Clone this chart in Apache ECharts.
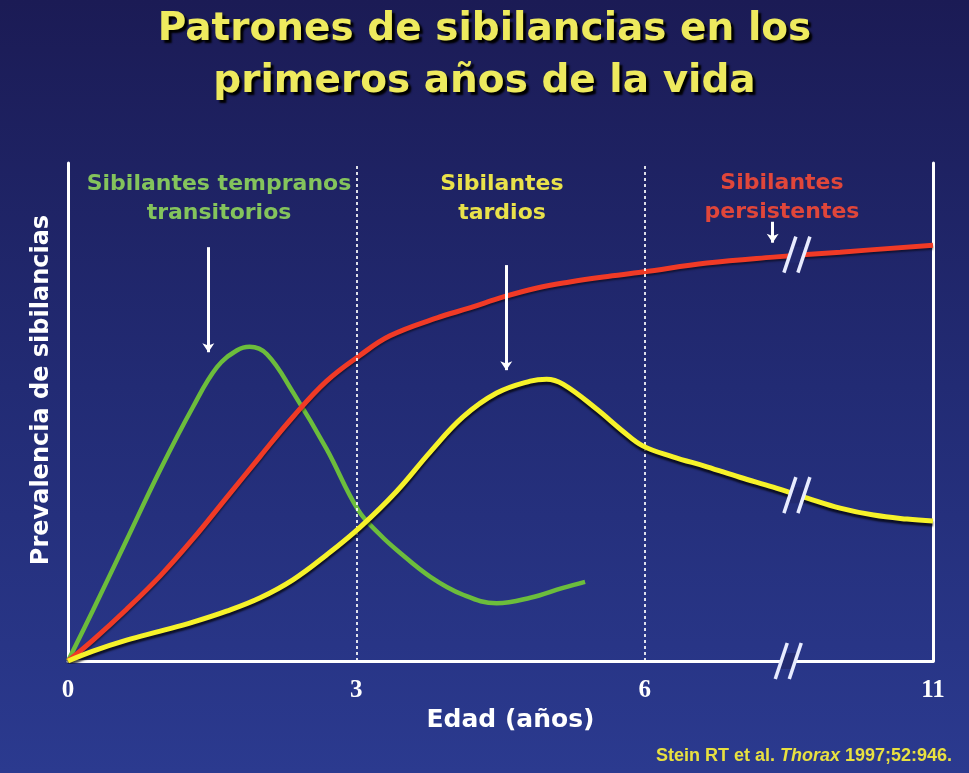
<!DOCTYPE html>
<html>
<head>
<meta charset="utf-8">
<script src="https://cdn.jsdelivr.net/npm/echarts@6/dist/echarts.min.js"></script>
<style>
  html, body { margin: 0; padding: 0; }
  #chart { width: 969px; height: 773px; }
</style>
</head>
<body>
<div id="chart"></div>
<script>
// tick labels of the broken age axis (0, 3, 6 then a break to 11)
const xTickLabels = ["0", "3", "6", "11"];
// dotted guides at 3 and 6 años
const guideAges = [3, 6];

// edad (años) / prevalencia (relative, 0-100)
const greenAge = [0, 0.26, 0.61, 0.96, 1.30, 1.55, 1.76, 1.89, 2.07, 2.34, 2.69, 3.02, 3.25, 3.42, 3.77, 4.11, 4.46, 4.81, 5.15, 5.38];
const greenPrev = [0, 10.2, 24.3, 38.4, 51.0, 59.0, 62.4, 63.1, 61.6, 54.0, 42.6, 30.3, 25.3, 22.3, 16.9, 13.3, 11.6, 12.7, 14.7, 15.9];

const redAge = [0, 0.26, 0.61, 0.96, 1.30, 1.65, 2.00, 2.34, 2.69, 3.04, 3.35, 3.84, 4.18, 4.53, 4.88, 5.22, 5.57, 5.98, 7.08, 8.23, 9.39, 11];
const redPrev = [0, 4.2, 10.4, 17.1, 24.5, 32.8, 41.1, 49.0, 56.2, 61.4, 65.3, 68.9, 70.9, 73.1, 74.9, 76.1, 77.1, 78.1, 79.9, 81.1, 82.1, 83.5];

const yellowAge = [0, 0.26, 0.61, 0.96, 1.30, 1.65, 2.00, 2.34, 2.69, 3.04, 3.42, 3.77, 4.11, 4.46, 4.81, 4.98, 5.15, 5.50, 5.77, 5.98, 6.49, 7.08, 7.65, 8.23, 8.82, 9.39, 9.97, 10.55, 11];
const yellowPrev = [0, 2.0, 4.2, 6.0, 7.8, 10.0, 12.7, 16.3, 21.3, 26.9, 34.1, 42.0, 49.0, 53.8, 56.2, 56.6, 55.6, 50.6, 46.2, 43.2, 41.0, 39.0, 36.9, 34.9, 32.7, 30.7, 29.3, 28.5, 28.1];

// "//" break marks: [edad, prevalencia]
const breakMarks = [[8.49, 0], [8.64, 81.6], [8.64, 33.3]];

// arrows: [edad, desde, hasta]
const greenArrow = [1.46, 83.1, 62.0];
const yellowArrow = [4.56, 79.5, 58.4];
const redArrow = [8.22, 88.2, 84.0];

// after 6 años the axis is compressed (6..11 drawn in the space of 3 años)
function toAxis(age) {
  return age <= 6 ? age : 6 + (age - 6) * 0.6;
}
function pairs(ages, vals) {
  return ages.map((a, i) => [toAxis(a), vals[i]]);
}
function arrow(a) {
  return [{ coord: [toAxis(a[0]), a[1]] }, { coord: [toAxis(a[0]), a[2]] }];
}

const chart = echarts.init(document.getElementById("chart"));
const bg = "#222a70";

const arrowStyle = {
  silent: true,
  symbol: ["none", "arrow"],
  symbolSize: 9,
  label: { show: false },
  lineStyle: { color: "#ffffff", width: 3, type: "solid" },
  itemStyle: { color: "#ffffff" },
  emphasis: { disabled: true },
};

const option = {
  backgroundColor: {
    type: "linear", x: 0, y: 0, x2: 0, y2: 1,
    colorStops: [
      { offset: 0, color: "#1b1b55" },
      { offset: 0.5, color: "#222b74" },
      { offset: 1, color: "#2b3a8f" },
    ],
  },
  animation: false,
  title: {
    text: "Patrones de sibilancias en los\nprimeros años de la vida",
    left: "center",
    top: 4,
    padding: 0,
    textStyle: {
      color: "#eeea5e",
      fontFamily: "DejaVu Sans",
      fontWeight: "bold",
      fontSize: 39,
      lineHeight: 52,
      textShadowColor: "#000000",
      textShadowOffsetX: 3,
      textShadowOffsetY: 3,
      textShadowBlur: 2,
    },
  },
  grid: { left: 68, right: 36, top: 163, bottom: 112 },
  xAxis: {
    type: "value",
    min: 0,
    max: 9,
    interval: 3,
    name: "Edad (años)",
    nameLocation: "middle",
    nameGap: 40,
    nameTextStyle: {
      color: "#ffffff",
      fontFamily: "DejaVu Sans",
      fontWeight: "bold",
      fontSize: 25,
      padding: [0, 0, 0, 20],
    },
    axisLine: { lineStyle: { color: "#ffffff", width: 3 } },
    axisTick: { show: false },
    splitLine: { show: false },
    axisLabel: {
      color: "#ffffff",
      fontFamily: "Liberation Serif",
      fontWeight: "bold",
      fontSize: 25,
      margin: 17,
      formatter: (v) => xTickLabels[Math.round(v / 3)],
    },
  },
  yAxis: [
    {
      type: "value",
      min: 0,
      max: 100,
      name: "Prevalencia de sibilancias",
      nameLocation: "middle",
      nameGap: 14,
      nameTextStyle: {
        color: "#ffffff",
        fontFamily: "DejaVu Sans",
        fontWeight: "bold",
        fontSize: 24,
        padding: [0, 0, 0, 44],
      },
      axisLine: { show: true, onZero: false, lineStyle: { color: "#ffffff", width: 3 } },
      axisTick: { show: false },
      axisLabel: { show: false },
      splitLine: { show: false },
    },
    {
      type: "value",
      min: 0,
      max: 100,
      position: "right",
      axisLine: { show: true, onZero: false, lineStyle: { color: "#ffffff", width: 3 } },
      axisTick: { show: false },
      axisLabel: { show: false },
      splitLine: { show: false },
    },
  ],
  graphic: [
    {
      type: "text", x: 219, y: 170,
      style: {
        text: "Sibilantes tempranos\ntransitorios",
        fill: "#84c45c",
        font: 'bold 22px "DejaVu Sans"',
        align: "center", verticalAlign: "top", lineHeight: 29,
      },
    },
    {
      type: "text", x: 502, y: 170,
      style: {
        text: "Sibilantes\ntardios",
        fill: "#e9e24a",
        font: 'bold 22px "DejaVu Sans"',
        align: "center", verticalAlign: "top", lineHeight: 29,
      },
    },
    {
      type: "text", x: 782, y: 169,
      style: {
        text: "Sibilantes\npersistentes",
        fill: "#e0463a",
        font: 'bold 22px "DejaVu Sans"',
        align: "center", verticalAlign: "top", lineHeight: 29,
      },
    },
    {
      type: "text", x: 952, y: 756,
      style: {
        text: "{a|Stein RT et al. }{b|Thorax}{a| 1997;52:946.}",
        align: "right", verticalAlign: "middle",
        rich: {
          a: { fill: "#e8e040", font: 'bold 18px "Liberation Sans"' },
          b: { fill: "#e8e040", font: 'italic bold 18px "Liberation Sans"' },
        },
      },
    },
  ],
  series: [
    {
      name: "Sibilantes tempranos transitorios",
      type: "line",
      data: pairs(greenAge, greenPrev),
      smooth: 0.4,
      symbol: "none",
      lineStyle: { color: "#6cbd3c", width: 4.5 },
      markLine: Object.assign({ data: [arrow(greenArrow)] }, arrowStyle),
      z: 3,
    },
    {
      name: "Sibilantes persistentes",
      type: "line",
      data: pairs(redAge, redPrev),
      smooth: 0.4,
      symbol: "none",
      lineStyle: {
        color: "#f03a26", width: 5,
        shadowColor: "rgba(0,0,0,0.5)", shadowBlur: 2, shadowOffsetY: 2,
      },
      markLine: Object.assign({ data: [arrow(redArrow)] }, arrowStyle),
      z: 4,
    },
    {
      name: "Sibilantes tardíos",
      type: "line",
      data: pairs(yellowAge, yellowPrev),
      smooth: 0.4,
      symbol: "none",
      lineStyle: {
        color: "#f6f22a", width: 5,
        shadowColor: "rgba(0,0,0,0.7)", shadowBlur: 2, shadowOffsetY: 3,
      },
      markLine: Object.assign({ data: [arrow(yellowArrow)] }, arrowStyle),
      z: 5,
    },
    {
      name: "breaks",
      type: "custom",
      data: breakMarks.map((b) => [toAxis(b[0]), b[1]]),
      z: 10,
      silent: true,
      markLine: {
        silent: true,
        symbol: "none",
        label: { show: false },
        lineStyle: { color: "rgba(255,255,255,0.85)", width: 2, type: [3, 3] },
        emphasis: { disabled: true },
        data: guideAges.map((a) => ({ xAxis: toAxis(a) })),
      },
      renderItem: function (params, api) {
        const p = api.coord([api.value(0), api.value(1)]);
        const h = 18, s = 6, d = 7;
        return {
          type: "group",
          children: [
            {
              type: "polygon",
              shape: {
                points: [
                  [p[0] - d + s * 0.45, p[1] - 8],
                  [p[0] + d + s * 0.45, p[1] - 8],
                  [p[0] + d - s * 0.45, p[1] + 8],
                  [p[0] - d - s * 0.45, p[1] + 8],
                ],
              },
              style: { fill: bg },
            },
            {
              type: "line",
              shape: { x1: p[0] - d + s, y1: p[1] - h, x2: p[0] - d - s, y2: p[1] + h },
              style: { stroke: "#e8ecff", lineWidth: 3.5 },
            },
            {
              type: "line",
              shape: { x1: p[0] + d + s, y1: p[1] - h, x2: p[0] + d - s, y2: p[1] + h },
              style: { stroke: "#e8ecff", lineWidth: 3.5 },
            },
          ],
        };
      },
    },
  ],
};

chart.setOption(option);
</script>
</body>
</html>
